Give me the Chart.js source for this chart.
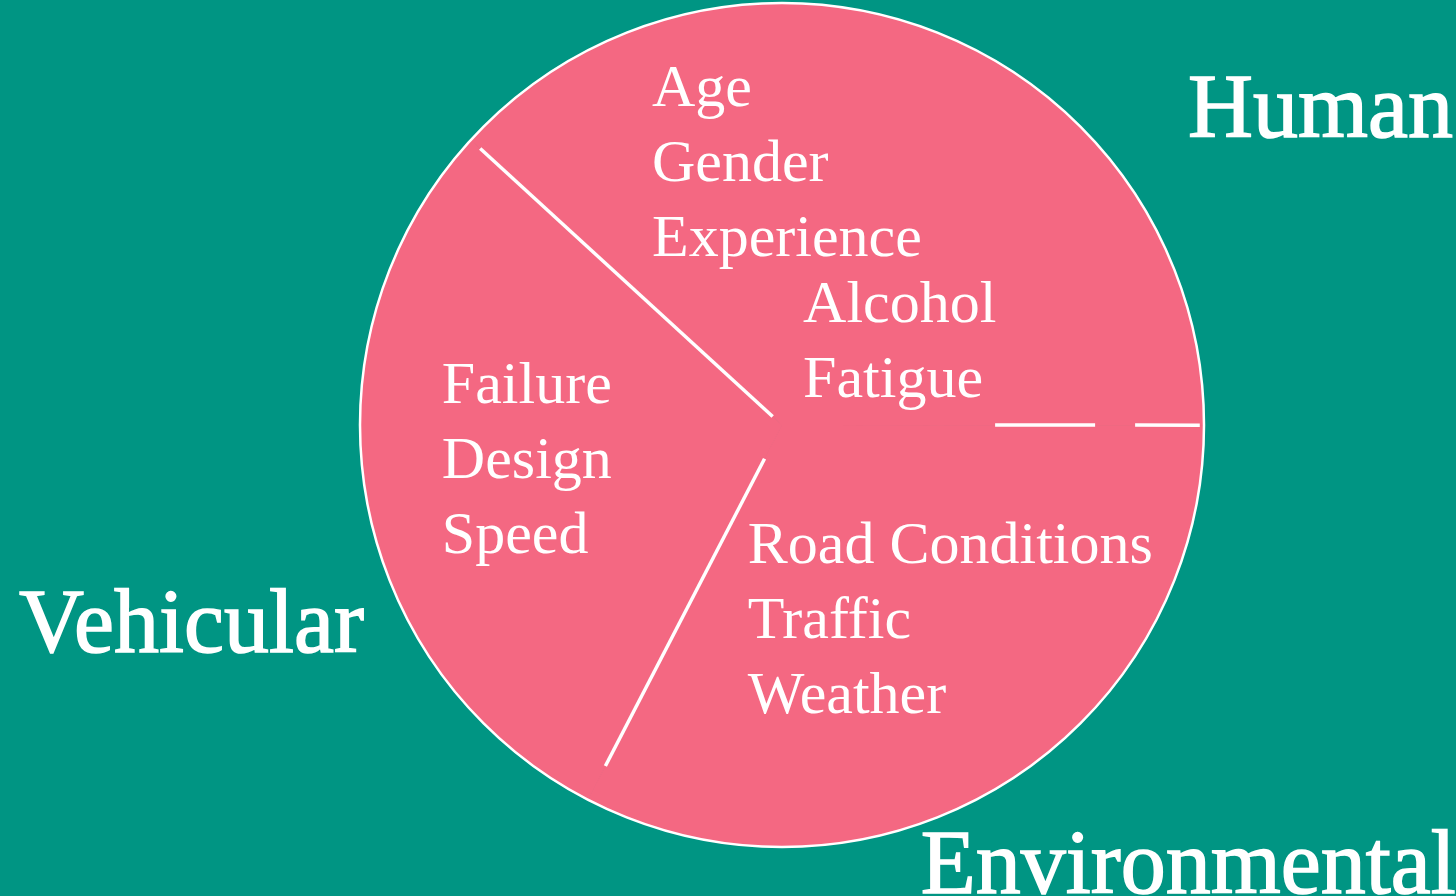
<!DOCTYPE html>
<html>
<head>
<meta charset="utf-8">
<title>Accident factors</title>
<script src="https://cdn.jsdelivr.net/npm/chart.js@4.4.1/dist/chart.umd.min.js"></script>
<style>
    html, body { margin: 0; padding: 0; background: #009583; overflow: hidden; }
    canvas { display: block; }
</style>
</head>
<body>
<canvas id="factorChart" width="1456" height="896"></canvas>
<script>
    // three groups of causes (degrees / 3.6)
    var groups = ['Human', 'Environmental', 'Vehicular'];
    var shares = [38.2, 32.6, 29.2];

    // factors written inside each slice
    var humanFactorsA = ['Age', 'Gender', 'Experience'];
    var humanFactorsB = ['Alcohol', 'Fatigue'];
    var environmentalFactors = ['Road Conditions', 'Traffic', 'Weather'];
    var vehicularFactors = ['Failure', 'Design', 'Speed'];

    var PINK = '#F46882';
    var WHITE = '#FFFFFF';

    // divider line at the start of each slice: from / to (fraction of radius), dash pattern
    var dividerFrom = [0.03, 0.505, 0.09];
    var dividerTo = [0.97, 0.99, 0.91];
    var dividerDash = [[], [100, 40], []];

    // text blocks, placed relative to the pie centre in radius units
    var factorBlocks = [
        { lines: humanFactorsA, dx: -0.308, dy: -0.755 },
        { lines: humanFactorsB, dx: 0.050, dy: -0.244 },
        { lines: vehicularFactors, dx: -0.806, dy: -0.052 },
        { lines: environmentalFactors, dx: -0.081, dy: 0.327 }
    ];
    var groupLabelPos = [
        { dx: 0.962, dy: -0.682 },   // Human
        { dx: 0.329, dy: 1.109 },    // Environmental
        { dx: -1.808, dy: 0.538 }    // Vehicular
    ];

    var pieDecor = {
        id: 'pieDecor',
        afterDatasetsDraw: function (chart) {
            var ctx = chart.ctx;
            var arcs = chart.getDatasetMeta(0).data;
            if (!arcs.length) return;
            var cx = arcs[0].x, cy = arcs[0].y, r = arcs[0].outerRadius;

            ctx.save();
            // outer rim
            ctx.strokeStyle = WHITE;
            ctx.lineWidth = 2.5;
            ctx.beginPath();
            ctx.arc(cx, cy, r, 0, Math.PI * 2);
            ctx.stroke();

            // dividers
            ctx.lineWidth = 3.5;
            arcs.forEach(function (arc, i) {
                var a = arc.startAngle;
                ctx.setLineDash(dividerDash[i]);
                ctx.beginPath();
                ctx.moveTo(cx + Math.cos(a) * r * dividerFrom[i], cy + Math.sin(a) * r * dividerFrom[i]);
                ctx.lineTo(cx + Math.cos(a) * r * dividerTo[i], cy + Math.sin(a) * r * dividerTo[i]);
                ctx.stroke();
            });
            ctx.setLineDash([]);

            // factor text
            ctx.fillStyle = WHITE;
            ctx.textAlign = 'left';
            ctx.textBaseline = 'alphabetic';
            ctx.font = '60px "Liberation Serif", "DejaVu Serif", serif';
            var lineH = 75;
            factorBlocks.forEach(function (b) {
                b.lines.forEach(function (txt, k) {
                    ctx.fillText(txt, cx + b.dx * r, cy + b.dy * r + k * lineH);
                });
            });

            // group names outside the pie
            ctx.font = '90px "Liberation Serif", "DejaVu Serif", serif';
            ctx.strokeStyle = WHITE;
            ctx.lineWidth = 1.5;
            groups.forEach(function (g, i) {
                var p = groupLabelPos[i];
                ctx.fillText(g, cx + p.dx * r, cy + p.dy * r);
                ctx.strokeText(g, cx + p.dx * r, cy + p.dy * r);
            });
            ctx.restore();
        }
    };

    var ctx = document.getElementById('factorChart').getContext('2d');
    new Chart(ctx, {
        type: 'pie',
        data: {
            labels: groups,
            datasets: [{
                data: shares,
                backgroundColor: PINK,
                borderColor: PINK,
                borderWidth: 1,
                hoverOffset: 0,
                radius: 422
            }]
        },
        options: {
            responsive: false,
            animation: false,
            rotation: -47.5,
            layout: { padding: { left: 108, right: 0, top: 0, bottom: 46 } },
            plugins: {
                legend: { display: false },
                tooltip: { enabled: false }
            }
        },
        plugins: [pieDecor]
    });
</script>
</body>
</html>
